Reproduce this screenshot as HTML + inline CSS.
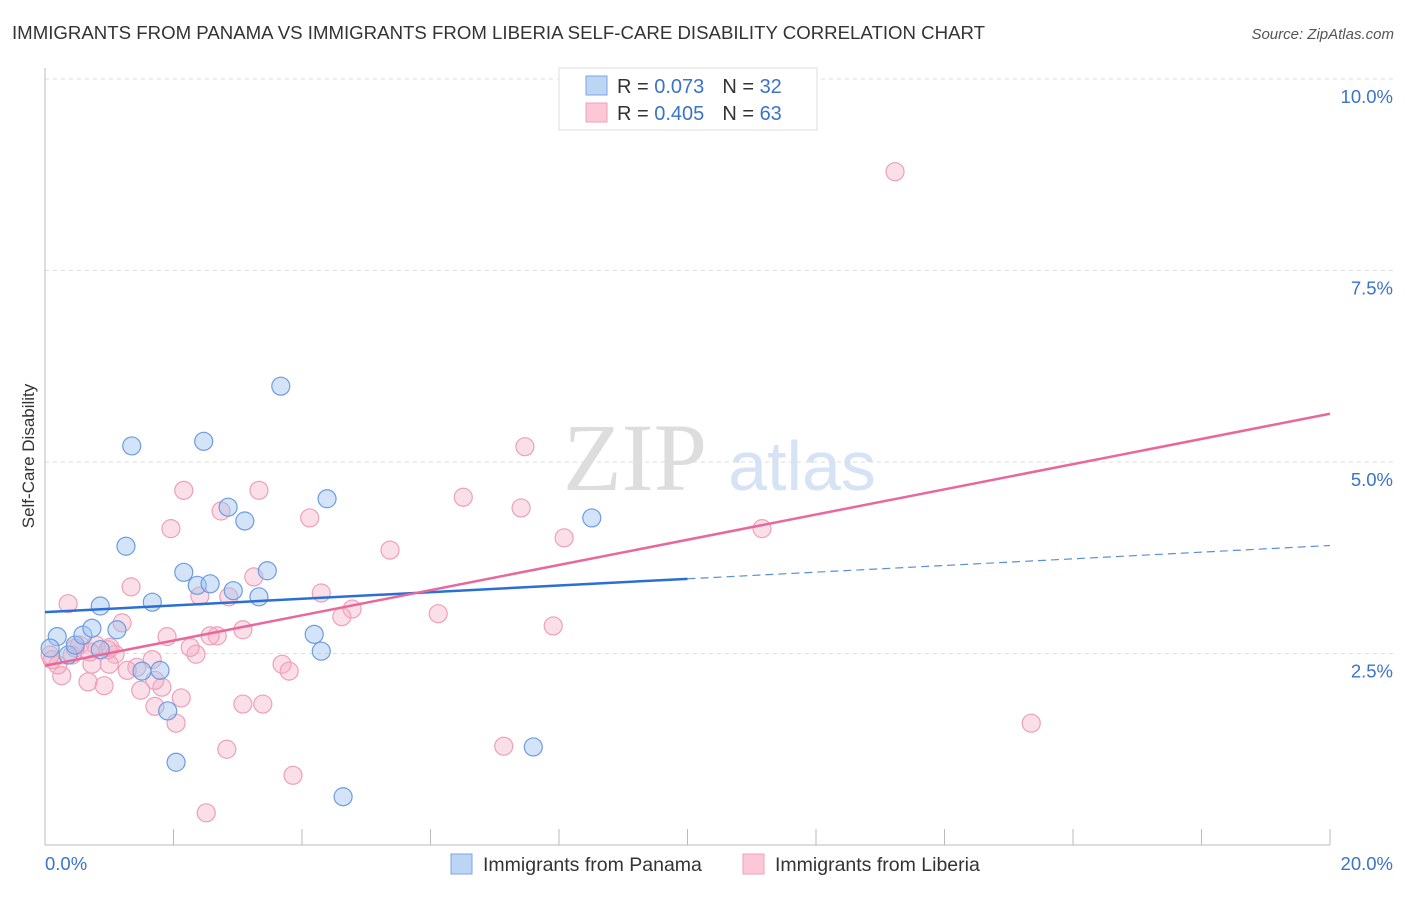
<!DOCTYPE html>
<html><head><meta charset="utf-8"><style>
body{margin:0;background:#fff;font-family:"Liberation Sans",sans-serif}
svg text{font-family:"Liberation Sans",sans-serif}
</style></head><body>
<svg width="1406" height="892" id="c">
<text x="12" y="39" font-size="18" fill="#333" textLength="973" lengthAdjust="spacingAndGlyphs">IMMIGRANTS FROM PANAMA VS IMMIGRANTS FROM LIBERIA SELF-CARE DISABILITY CORRELATION CHART</text>
<text x="1394" y="39" font-size="15" fill="#555" font-style="italic" text-anchor="end">Source: ZipAtlas.com</text>
<text x="34" y="456" font-size="17" fill="#333" text-anchor="middle" transform="rotate(-90 34 456)">Self-Care Disability</text>
<g><text x="635" y="490" font-size="96" fill="#ddd" font-family="Liberation Serif" text-anchor="middle" style="font-family:'Liberation Serif',serif">ZIP</text><text x="802" y="490" font-size="70" fill="#d5e3f5" text-anchor="middle">atlas</text></g>
<g id="grid"></g><g id="marks"></g><g id="lines"></g>
<g>
<rect x="559" y="68" width="258" height="62" fill="#fff" stroke="#ddd"/>
<rect x="586" y="76" width="21" height="19" fill="#bcd5f5" stroke="#7aa6e3"/>
<rect x="586" y="103" width="21" height="19" fill="#fcc8d7" stroke="#f0a0ba"/>
<text x="617" y="93" font-size="20" fill="#333">R = <tspan fill="#3b73c9">0.073</tspan><tspan dx="18">N = </tspan><tspan fill="#3b73c9">32</tspan></text>
<text x="617" y="120" font-size="20" fill="#333">R = <tspan fill="#3b73c9">0.405</tspan><tspan dx="18">N = </tspan><tspan fill="#3b73c9">63</tspan></text>
</g>
<g>
<rect x="451" y="854" width="21" height="20" fill="#bcd5f5" stroke="#7aa6e3"/>
<text x="483" y="871" font-size="19.5" fill="#333">Immigrants from Panama</text>
<rect x="743" y="854" width="21" height="20" fill="#fcc8d7" stroke="#f0a0ba"/>
<text x="775" y="871" font-size="19.5" fill="#333">Immigrants from Liberia</text>
</g>
</svg>
<script>
const yTicks=[2.5,5,7.5,10];
const yTickLabels=["2.5%","5.0%","7.5%","10.0%"];
const xTickLabels=["0.0%","20.0%"];
const panamaX=[0.19,0.36,0.47,0.59,0.73,0.86,1.12,1.26,1.35,1.51,1.67,1.79,1.91,2.04,2.16,2.37,2.47,2.57,2.85,2.93,3.11,3.33,3.46,3.67,4.19,4.30,4.39,4.64,7.60,8.51,0.08,0.86];
const panamaY=[2.72,2.48,2.61,2.74,2.83,3.12,2.81,3.90,5.21,2.27,3.17,2.28,1.75,1.08,3.56,3.39,5.27,3.41,4.41,3.32,4.23,3.24,3.58,5.99,2.75,2.53,4.52,0.63,1.28,4.27,2.57,2.55];
const liberiaX=[13.23,15.35,11.16,7.47,6.51,7.41,8.08,7.91,7.14,6.12,5.37,4.78,4.62,4.30,4.12,3.69,3.80,3.86,3.39,3.33,3.25,3.08,3.08,2.86,2.83,2.74,2.68,2.57,2.51,2.35,2.26,2.16,2.12,2.04,1.96,1.90,1.82,1.71,1.67,1.49,1.43,1.34,1.28,1.20,1.09,1.00,0.92,0.79,0.73,0.67,0.54,0.42,0.36,0.26,0.20,0.11,0.08,1.01,2.41,1.71,0.98,0.70,0.47];
const liberiaY=[8.79,1.59,4.13,5.20,4.54,4.40,4.01,2.86,1.29,3.02,3.85,3.08,2.98,3.29,4.27,2.36,2.27,0.91,1.84,4.63,3.50,1.84,2.81,3.24,1.25,4.36,2.73,2.73,0.42,2.49,2.58,4.63,1.92,1.59,4.13,2.72,2.06,1.81,2.42,2.02,2.32,3.37,2.28,2.90,2.49,2.36,2.08,2.61,2.36,2.13,2.61,2.48,3.15,2.21,2.35,2.42,2.48,2.58,3.25,2.15,2.55,2.52,2.57];
const panamaTrend=[3.04,3.91];
const liberiaTrend=[2.34,5.63];
const NS="http://www.w3.org/2000/svg";
const X=v=>45+v*64.25, Y=v=>845-v*76.6;
function mk(t,a,p){const e=document.createElementNS(NS,t);for(const k in a)e.setAttribute(k,a[k]);p.appendChild(e);return e;}
const g=document.getElementById('grid'),m=document.getElementById('marks'),l=document.getElementById('lines');
yTicks.forEach((t,i)=>{
 const ln=mk('line',{x1:45,x2:1393,y1:Y(t),y2:Y(t),stroke:'#ddd','stroke-dasharray':'4 4'},g);
 
 
 const tx=mk('text',{x:1393,y:Y(t)+24,'font-size':18.5,fill:'#3b73c9','text-anchor':'end'},g);tx.textContent=yTickLabels[i];
 
 
});
const ax=mk('line',{x1:45,x2:45,y1:68,y2:845,stroke:'#bbb'},g);


const bx=mk('line',{x1:45,x2:1330,y1:845,y2:845,stroke:'#bbb'},g);


for(let k=1;k<=10;k++){const tk=mk('line',{x1:X(k*2),x2:X(k*2),y1:829,y2:845,stroke:'#bbb'},g);
 
 }
[[0,'start',45],[20,'end',1393]].forEach((d,i)=>{const t=mk('text',{x:d[2],y:870,'font-size':18.5,fill:'#3b73c9','text-anchor':d[1]},g);t.textContent=xTickLabels[i];
 
 });
liberiaX.forEach((x,i)=>{const c=mk('circle',{cx:X(x),cy:Y(liberiaY[i]),r:9,fill:'rgba(245,175,198,0.4)',stroke:'#eda0b9','stroke-width':1.2},m);
 
 });
panamaX.forEach((x,i)=>{const c=mk('circle',{cx:X(x),cy:Y(panamaY[i]),r:9,fill:'rgba(160,195,240,0.45)',stroke:'#6c9ce0','stroke-width':1.2},m);
 
 });
const mid=panamaTrend[0]+(panamaTrend[1]-panamaTrend[0])*0.5;
const b1=mk('line',{x1:X(0),y1:Y(panamaTrend[0]),x2:X(10),y2:Y(mid),stroke:'#2a6fd6','stroke-width':2.5},l);


const b2=mk('line',{x1:X(10),y1:Y(mid),x2:X(20),y2:Y(panamaTrend[1]),stroke:'#5a8fd8','stroke-width':1.2,'stroke-dasharray':'8 5'},l);


const p1=mk('line',{x1:X(0),y1:Y(liberiaTrend[0]),x2:X(20),y2:Y(liberiaTrend[1]),stroke:'#e8689a','stroke-width':2.5},l);


</script>
</body></html>
